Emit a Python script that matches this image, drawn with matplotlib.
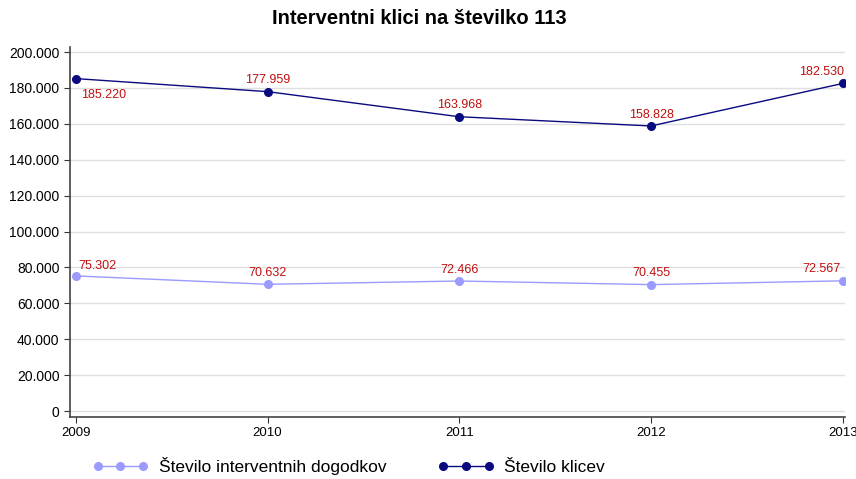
import matplotlib
matplotlib.use("Agg")
from matplotlib import pyplot as plt
from matplotlib.ticker import FuncFormatter

plt.rcParams['font.family'] = ['Liberation Sans', 'DejaVu Sans']

years = [2009, 2010, 2011, 2012, 2013]
dogodki = [75302, 70632, 72466, 70455, 72567]
klici = [185220, 177959, 163968, 158828, 182530]
yticks = [0, 20000, 40000, 60000, 80000, 100000, 120000, 140000, 160000, 180000, 200000]

# label offsets in points (dx, dy), ha
klici_off = [((4, -14), 'left'), ((0, 6), 'center'), ((0, 6), 'center'), ((0, 6), 'center'), ((-15, 6), 'center')]
dog_off = [((2, 5), 'left'), ((0, 6), 'center'), ((0, 6), 'center'), ((0, 6), 'center'), ((-15, 6), 'center')]

light = '#9a9aff'
dark = '#0a0a80'
red = '#c01010'

def fmt(v):
    return f"{int(v):,}".replace(",", ".")

fig = plt.figure(figsize=(8.56, 4.79), dpi=100)
ax = fig.add_axes([0.0818, 0.1294, 0.905, 0.7724])

ax.plot(years, dogodki, color=light, marker='o', markersize=5.5, linewidth=1, label='Število interventnih dogodkov')
ax.plot(years, klici, color=dark, marker='o', markersize=5.5, linewidth=1, label='Število klicev')

for x, v, (off, ha) in zip(years, klici, klici_off):
    ax.annotate(fmt(v), (x, v), textcoords='offset points', xytext=off, ha=ha, color=red, fontsize=9)
for x, v, (off, ha) in zip(years, dogodki, dog_off):
    ax.annotate(fmt(v), (x, v), textcoords='offset points', xytext=off, ha=ha, color=red, fontsize=9)

ax.set_xlim(2008.97, 2013.01)
ax.set_ylim(-3300, 202800)
ax.set_xticks(years)
ax.set_yticks(yticks)
ax.yaxis.set_major_formatter(FuncFormatter(lambda v, p: fmt(v)))
ax.tick_params(axis='y', labelsize=10, direction='out', length=4, color='#333333')
ax.tick_params(axis='x', labelsize=9.5, direction='out', length=4, color='#333333')
ax.grid(axis='y', color='#e0e0e0', linewidth=1)
ax.set_axisbelow(True)
for s in ['top', 'right']:
    ax.spines[s].set_visible(False)
for s in ['left', 'bottom']:
    ax.spines[s].set_color('#444444')
    ax.spines[s].set_linewidth(1.2)

fig.text(0.49, 0.962, 'Interventni klici na številko 113', ha='center', va='center', fontsize=14.5, fontweight='bold')

fig.legend(loc='center left', bbox_to_anchor=(0.10, 0.027), ncol=2, frameon=False, fontsize=12.5,
           markerscale=1, numpoints=3, handlelength=3.2, handletextpad=0.6, columnspacing=3, borderaxespad=0)

fig.savefig('out.png', dpi=100)
